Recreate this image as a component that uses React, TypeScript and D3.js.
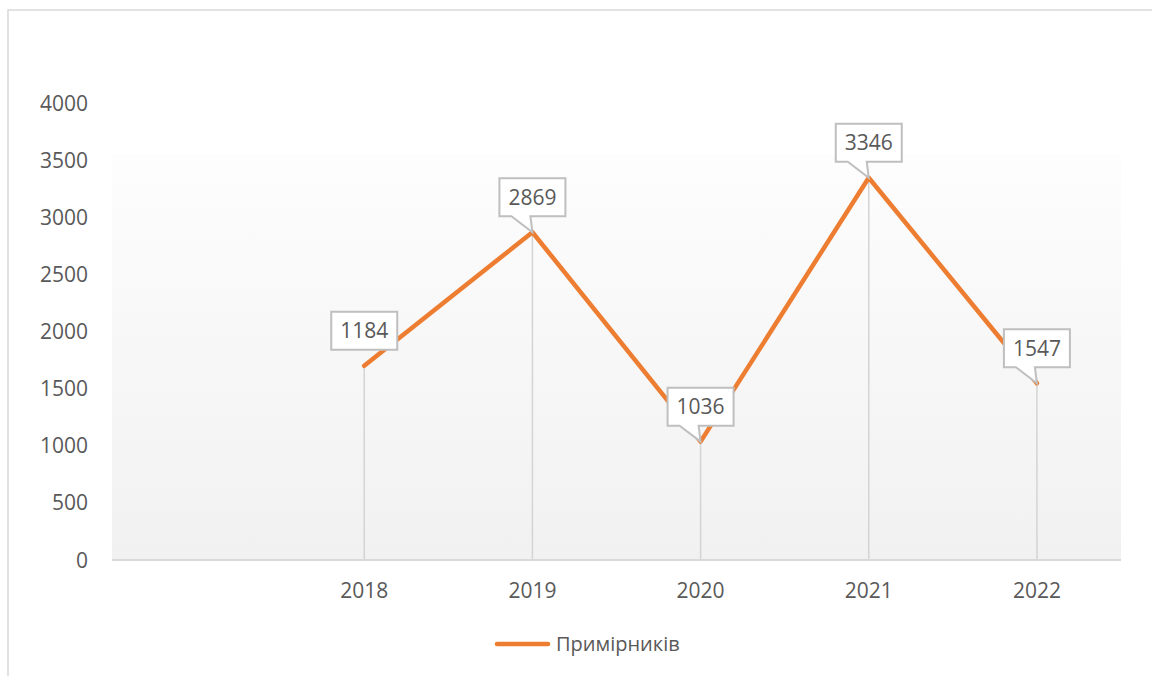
import React from 'react'
import { scaleBand, scaleLinear, line } from 'd3'

const categories = ['', '2018', '2019', '2020', '2021', '2022']
const years = ['2018', '2019', '2020', '2021', '2022']
// plotted positions (the first point sits near 1700)
const values = [1700, 2869, 1036, 3346, 1547]
// text shown in the callouts
const labels = ['1184', '2869', '1036', '3346', '1547']
const yTicks = [0, 500, 1000, 1500, 2000, 2500, 3000, 3500, 4000]
const seriesName = 'Примірників'

const LEFT = 112
const RIGHT = 1121
const TOP = 103
const BOTTOM = 560
const FONT = '"Open Sans", "Noto Sans", sans-serif'
const TEXT = '#595959'
const ORANGE = '#ED7D31'

const App = () => {
  const xScale = scaleBand().domain(categories).range([LEFT, RIGHT])
  const yScale = scaleLinear().domain([0, 4000]).range([BOTTOM, TOP])
  const cx = (c: string) => (xScale(c) || 0) + xScale.bandwidth() / 2

  const pts = years.map((y, i) => ({ x: cx(y), y: yScale(values[i]), label: labels[i] }))
  const linePath = line<{ x: number, y: number }>().x(d => d.x).y(d => d.y)

  // the visible shading starts a little below the top of the value range
  const shadeTop = 155

  return (
    <svg width={1152} height={676} style={{ position: 'absolute', left: 0, top: 0 }}>
      <defs>
        <linearGradient id="plotBg" x1="0" y1="0" x2="0" y2="1">
          <stop offset="0" stopColor="#fdfdfd" />
          <stop offset="1" stopColor="#f1f1f1" />
        </linearGradient>
      </defs>
      <rect x={0} y={0} width={1152} height={676} fill="white" />
      <rect x={8} y={10} width={1200} height={700} fill="none" stroke="#d9d9d9" strokeWidth={1.5} />

      <rect x={LEFT} y={shadeTop} width={RIGHT - LEFT} height={BOTTOM - shadeTop} fill="url(#plotBg)" />

      <g data-y-axis>
        {yTicks.map(t => (
          <text key={t} x={88} y={yScale(t)} dy="0.36em" textAnchor="end"
            style={{ fontFamily: FONT, fontSize: 21, fill: TEXT }}>{t}</text>
        ))}
      </g>

      <g data-drop-lines>
        {pts.map((p, i) => (
          <line key={i} x1={p.x} x2={p.x} y1={p.y} y2={BOTTOM} stroke="#d4d4d4" strokeWidth={1.5} />
        ))}
      </g>

      <line x1={LEFT} x2={RIGHT} y1={BOTTOM} y2={BOTTOM} stroke="#d9d9d9" strokeWidth={2} />

      <g data-x-axis>
        {years.map(y => (
          <text key={y} x={cx(y)} y={598} textAnchor="middle"
            style={{ fontFamily: FONT, fontSize: 21, fill: TEXT }}>{y}</text>
        ))}
      </g>

      <path d={linePath(pts) || ''} fill="none" stroke={ORANGE} strokeWidth={4.5} strokeLinejoin="round" strokeLinecap="round" />

      <g data-labels>
        {pts.map((p, i) => {
          const w = 66, h = 38
          const bx = p.x - w / 2
          const by = p.y - 16 - h
          const yb = by + h
          const d = i === 0
            ? `M${bx},${by}H${bx + w}V${yb}H${bx}Z`
            : `M${bx},${by}H${bx + w}V${yb}H${p.x - 2}L${p.x},${p.y}L${p.x - 21},${yb}H${bx}Z`
          return (
            <g key={i}>
              <path d={d} fill="white" stroke="#bfbfbf" strokeWidth={2} strokeLinejoin="miter" />
              <text x={p.x} y={by + h / 2} dy="0.36em" textAnchor="middle"
                style={{ fontFamily: FONT, fontSize: 21, fill: TEXT }}>{p.label}</text>
            </g>
          )
        })}
      </g>

      <g data-legend>
        <line x1={497} x2={548} y1={644} y2={644} stroke={ORANGE} strokeWidth={4.5} strokeLinecap="round" />
        <text x={556} y={651} style={{ fontFamily: FONT, fontSize: 20, fill: TEXT }}>{seriesName}</text>
      </g>
    </svg>
  )
}

export default App
